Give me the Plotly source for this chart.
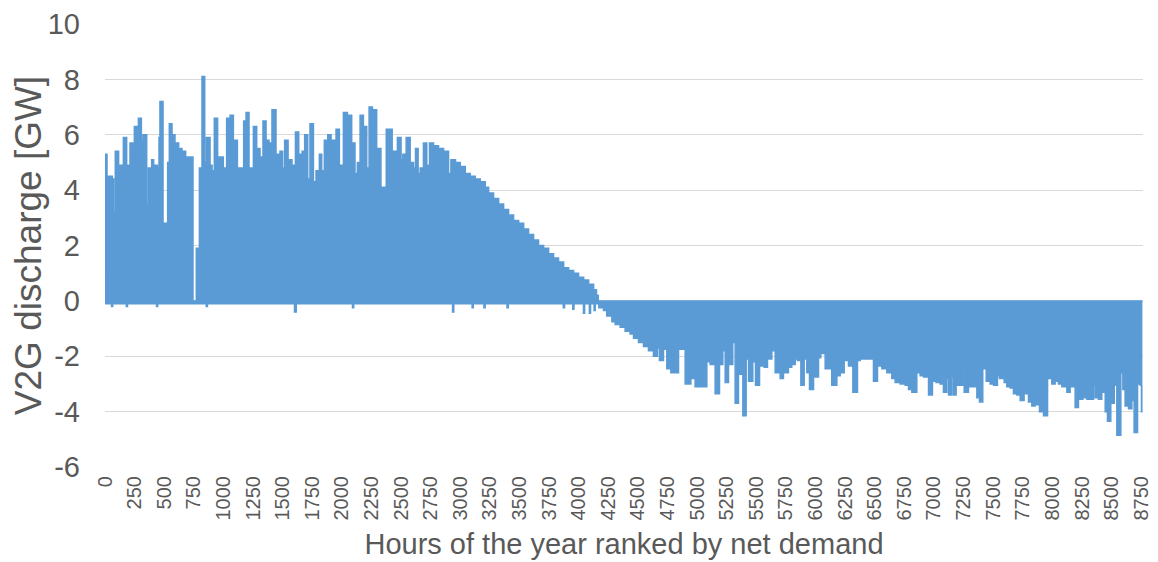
import plotly.graph_objects as go

# upper edge of the V2G discharge band (hour rank, GW)
upper_hours = [
    0, 17, 28, 62, 73, 87, 115, 127, 155, 183, 211, 236, 248, 282, 307, 321,
    352, 366, 394, 411, 442, 456, 464, 490, 529, 543, 566, 591, 622, 650, 681,
    743, 771, 797, 819, 842, 856, 887, 904, 923, 951, 999, 1027, 1056, 1084,
    1118, 1129, 1171, 1191, 1216, 1241, 1253, 1281, 1309, 1334, 1360, 1385,
    1410, 1444, 1478, 1500, 1517, 1546, 1557, 1579, 1608, 1636, 1664, 1686,
    1712, 1731, 1760, 1782, 1810, 1830, 1852, 1881, 1909, 1951, 1979, 2013,
    2047, 2083, 2111, 2131, 2154, 2182, 2210, 2230, 2258, 2294, 2330, 2375,
    2425, 2458, 2469, 2500, 2515, 2543, 2577, 2605, 2622, 2644, 2661, 2689,
    2717, 2740, 2774, 2816, 2859, 2901, 2921, 2960, 3000, 3042, 3084, 3127,
    3169, 3211, 3239, 3281, 3324, 3366, 3408, 3450, 3493, 3535, 3577, 3619,
    3661, 3704, 3746, 3788, 3830, 3873, 3915, 3957, 3999, 4042, 4084, 4126,
    4150, 4165, 4937, 4945, 8760,
]
upper_vals = [
    5.3, 1.0, 4.5, 4.4, 3.2, 5.4, 1.8, 4.9, 5.9, 4.9, 5.7, 5.3, 6.3, 6.6, 5.8, 6.0,
    3.5, 4.8, 5.1, 4.9, 4.8, 5.9, 7.2, 2.8, 5.0, 6.4, 6.0, 5.7, 5.5, 5.4, 5.2,
    0.0, 1.9, 4.8, 8.1, 5.0, 5.9, 4.9, 4.7, 6.6, 5.2, 4.8, 6.6, 6.7, 5.8,
    0.0, 4.8, 6.5, 6.8, 4.8, 3.6, 6.3, 5.5, 5.2, 6.5, 5.8, 5.7,
    6.9, 5.3, 5.4, 4.8, 5.8, 4.7, 5.1, 4.9, 6.1, 5.3, 5.4, 6.0,
    4.4, 6.4, 4.3, 4.7, 5.3, 4.7, 5.8, 6.0, 5.8, 6.2, 4.9, 6.8,
    6.7, 5.7, 4.6, 5.0, 6.7, 6.3, 4.8, 7.0, 6.9, 5.5, 4.1, 6.2,
    5.4, 4.9, 5.9, 5.1, 5.3, 5.9, 5.0, 4.8, 5.5, 4.6, 4.8, 5.7,
    4.9, 5.7, 5.6, 5.5, 5.4, 4.6, 5.1, 5.0, 4.85, 4.6, 4.5, 4.4,
    4.3, 4.1, 3.9, 3.7, 3.5, 3.3, 3.1, 2.9, 2.8, 2.6, 2.4, 2.2,
    2.0, 1.9, 1.7, 1.55, 1.4, 1.2, 1.1, 1.0, 0.85, 0.75, 0.6, 0.4,
    0.2, 0.0, -1.45, 0.0, 0.0,
]

# lower edge (charging side)
lower_hours = [
    0, 55, 65, 180, 190, 435, 445, 855, 865, 1600, 1615, 2090, 2100, 2935, 2945,
    3100, 3110, 3200, 3210, 3395, 3405, 3870, 3880, 3950, 3960, 4040, 4050,
    4090, 4100, 4130, 4140, 4170, 4209, 4237, 4280, 4308, 4350, 4392, 4434,
    4463, 4505, 4547, 4589, 4631, 4665, 4682, 4716, 4744, 4778, 4843, 4899,
    4947, 4983, 5082, 5110, 5152, 5189, 5217, 5237, 5265, 5301, 5321, 5349,
    5386, 5414, 5434, 5470, 5493, 5527, 5566, 5594, 5631, 5659, 5701, 5729,
    5771, 5799, 5828, 5847, 5876, 5904, 5926, 5949, 5983, 6025, 6044, 6081,
    6137, 6180, 6208, 6242, 6278, 6315, 6354, 6377, 6439, 6447, 6489, 6523,
    6560, 6602, 6644, 6672, 6714, 6757, 6785, 6813, 6855, 6883, 6912, 6954,
    6987, 7018, 7052, 7080, 7108, 7123, 7151, 7165, 7187, 7221, 7244, 7255,
    7291, 7328, 7339, 7362, 7384, 7412, 7441, 7474, 7503, 7536, 7553, 7593,
    7615, 7643, 7671, 7700, 7728, 7761, 7798, 7826, 7854, 7891, 7925, 7959,
    7995, 8023, 8051, 8080, 8122, 8150, 8192, 8220, 8257, 8291, 8347, 8361,
    8389, 8417, 8446, 8465, 8493, 8522, 8544, 8578, 8595, 8614, 8643, 8671,
    8690, 8719, 8741, 8752, 8760,
]
lower_vals = [
    -0.1, -0.2, -0.1, -0.2, -0.1, -0.2, -0.1, -0.2, -0.1, -0.4, -0.1, -0.25, -0.1, -0.4, -0.1,
    -0.25, -0.1, -0.25, -0.1, -0.25, -0.1, -0.25, -0.1, -0.3, -0.1, -0.45, -0.1,
    -0.45, -0.1, -0.35, -0.1, -0.25, -0.35, -0.55, -0.75, -0.85, -0.95, -1.1, -1.2,
    -1.35, -1.5, -1.65, -1.8, -2.0, -1.7, -2.15, -1.75, -2.45, -2.6, -1.75, -3.0,
    -2.8, -3.1, -2.2, -2.3, -3.35, -2.3, -1.8, -2.95, -2.3, -1.5, -3.7, -2.65,
    -4.15, -2.1, -2.9, -2.2, -3.05, -2.35, -2.4, -2.1, -1.8, -2.6, -2.8, -2.6,
    -2.4, -2.3, -2.1, -2.15, -3.05, -2.1, -2.6, -3.2, -2.75, -2.05, -1.9, -2.45,
    -3.05, -2.7, -2.6, -2.15, -2.35, -3.3, -2.15, -2.1, -1.25, -2.1, -2.9, -2.35,
    -2.45, -2.6, -2.8, -2.95, -3.0, -3.05, -3.2, -3.3, -2.6, -2.7, -2.75, -3.4,
    -2.9, -2.95, -3.0, -3.3, -2.8, -3.4, -2.75, -3.4, -3.05, -3.05, -2.3, -3.3,
    -3.1, -2.5, -3.1, -3.5, -3.65, -2.45, -2.9, -3.0, -3.05, -2.7, -2.8, -2.95,
    -3.1, -3.15, -3.35, -3.4, -3.6, -3.35, -3.65, -3.8, -3.75, -4.0, -4.15, -2.8,
    -3.0, -2.9, -3.0, -3.1, -3.3, -3.1, -3.85, -3.55, -3.5, -3.55, -3.05, -3.5,
    -3.55, -3.3, -4.0, -4.35, -3.7, -3.05, -4.85, -2.6, -3.2, -3.8, -3.9, -3.6,
    -4.75, -3.0, -3.05, -4.0, -4.0,
]

x_ticks = list(range(0, 8751, 250))
y_ticks = [-6, -4, -2, 0, 2, 4, 6, 8, 10]

blue = '#5B9BD5'
grey = '#595959'
font = 'Liberation Sans, Arial, sans-serif'

fig = go.Figure()
fig.add_trace(go.Scatter(x=lower_hours, y=lower_vals, mode='lines', line_shape='hv',
                         line=dict(color=blue, width=1.5), hoverinfo='skip'))
fig.add_trace(go.Scatter(x=upper_hours, y=upper_vals, mode='lines', line_shape='hv',
                         line=dict(color=blue, width=1.5), fill='tonexty',
                         fillcolor=blue, hoverinfo='skip'))

fig.update_xaxes(range=[0, 8765], tickvals=x_ticks, ticktext=[str(t) for t in x_ticks],
                 tickangle=-90, tickfont=dict(size=20, color=grey, family=font),
                 showgrid=False, zeroline=False, showline=False, ticks='',
                 ticklabelstandoff=4, automargin=False,
                 title=dict(text='Hours of the year ranked by net demand',
                            font=dict(size=29, color=grey, family=font), standoff=14))
fig.update_yaxes(range=[-6, 10], tickvals=y_ticks, ticktext=[str(t) for t in y_ticks],
                 tickfont=dict(size=29, color=grey, family=font),
                 showgrid=True, gridcolor='#d9d9d9', gridwidth=1, zeroline=False,
                 showline=False, ticks='', ticklabelstandoff=24, automargin=False,
                 title=dict(text='V2G discharge [GW]', font=dict(size=37, color=grey, family=font),
                            standoff=2))

# page body keeps an 8px margin, so the figure is a bit smaller than the window
fig.update_layout(width=1150, height=554, showlegend=False,
                  margin=dict(l=97, r=15, t=16, b=95),
                  plot_bgcolor='white', paper_bgcolor='white')

fig.write_html("out.html")
